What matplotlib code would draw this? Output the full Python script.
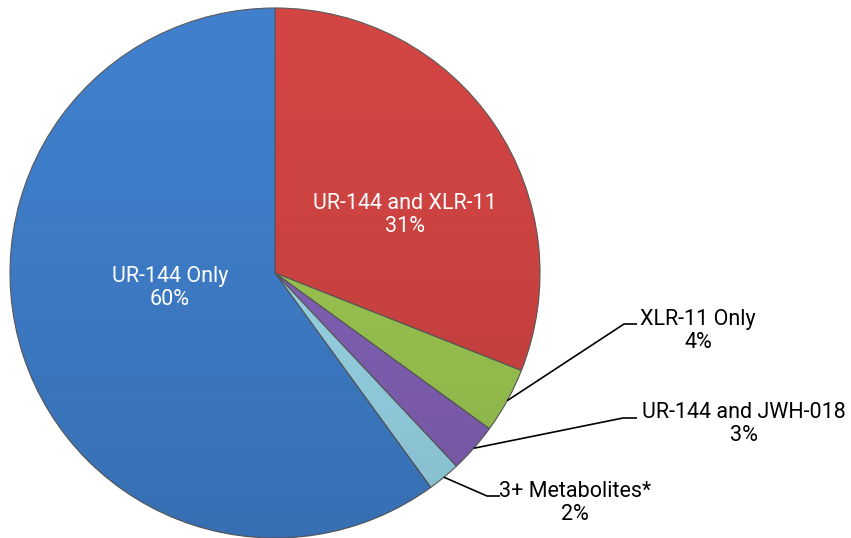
import numpy as np
import matplotlib
matplotlib.use("Agg")
import matplotlib.pyplot as plt
from matplotlib.patches import Circle

categories = ["UR-144 and XLR-11", "XLR-11 Only", "UR-144 and JWH-018", "3+ Metabolites*", "UR-144 Only"]
values = [31, 4, 3, 2, 60]
colors = ["#D24543", "#9DC852", "#8462B8", "#9AD8EA", "#3F7FCC"]

plt.rcParams["font.family"] = ["Roboto", "DejaVu Sans"]

W, H = 851, 538
fig = plt.figure(figsize=(W / 100, H / 100), dpi=100)
ax = fig.add_axes([0, 0, 1, 1])

def Y(py):
    return H - py

cx, cy, R = 275, Y(273), 265
wedges, _ = ax.pie(values, colors=colors, startangle=90, counterclock=False,
                   center=(cx, cy), radius=R, frame=True,
                   wedgeprops=dict(edgecolor="#5a5a5a", linewidth=0.8))

# subtle shading (darker towards the bottom) clipped to the pie
grad = np.linspace(0, 1, 256)
shade = np.zeros((256, 1, 4))
shade[:, 0, 3] = (grad ** 1.5) * 0.13
im = ax.imshow(shade, extent=(cx - R, cx + R, cy - R, cy + R), origin="upper",
               aspect="auto", zorder=2, interpolation="bilinear")
clip = Circle((cx, cy), R, transform=ax.transData)
im.set_clip_path(clip)

ax.set_xlim(0, W)
ax.set_ylim(0, H)
ax.set_aspect("equal")
ax.axis("off")

fs = 15.5
# inside labels
inside = {0: (405, 215), 4: (170, 288)}
for i, (tx, ty) in inside.items():
    ax.text(tx, Y(ty), f"{categories[i]}\n{values[i]}%", color="white", fontsize=fs,
            ha="center", va="center", linespacing=1.15, zorder=5)

# outside labels with leader lines
outside = {1: ((624, 324), (637, 324), (698, 331)),
           2: ((623, 418), (637, 418), (744, 424)),
           3: ((487, 496), (500, 496), (575, 503))}
for i, (elbow, end, txt) in outside.items():
    w = wedges[i]
    mid = np.deg2rad((w.theta1 + w.theta2) / 2)
    sx = cx + R * np.cos(mid)
    sy = cy + R * np.sin(mid)
    ax.plot([sx, elbow[0], end[0]], [sy, Y(elbow[1]), Y(end[1])], color="black", lw=1.2,
            solid_capstyle="butt", zorder=5)
    ax.text(txt[0], Y(txt[1]), f"{categories[i]}\n{values[i]}%", color="black", fontsize=fs,
            ha="center", va="center", linespacing=1.15, zorder=5)

fig.savefig("out.png", dpi=100)
